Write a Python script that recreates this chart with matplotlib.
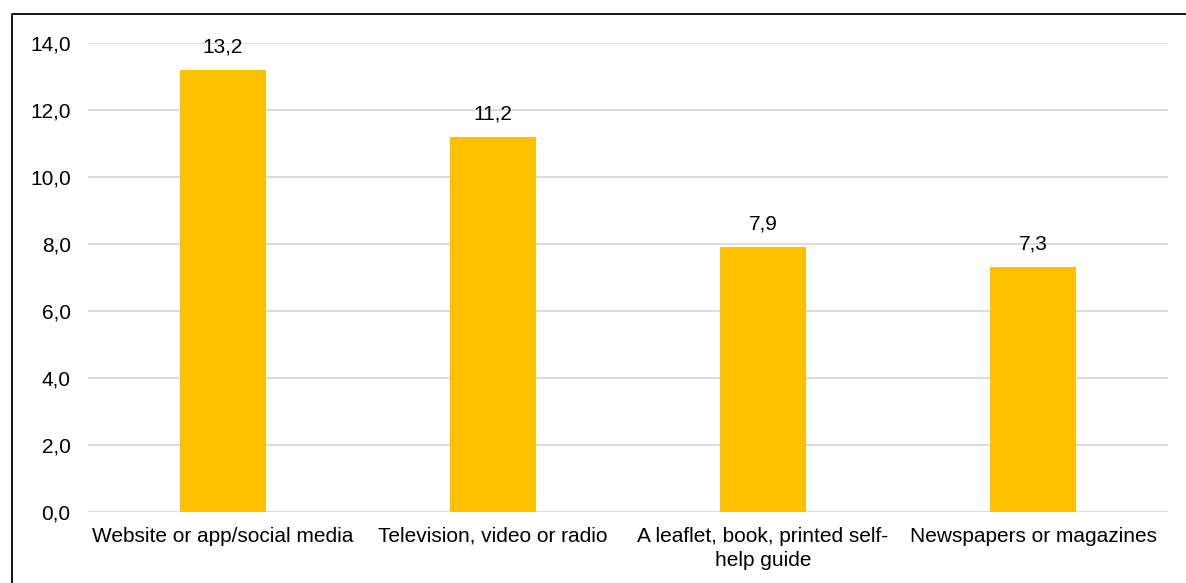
"""Bar chart of information sources (percent)."""

import matplotlib.pyplot as plt
from matplotlib.lines import Line2D

categories = ['Website or app/social media', 'Television, video or radio',
              'A leaflet, book, printed self-\nhelp guide', 'Newspapers or magazines']
values = [13.2, 11.2, 7.9, 7.3]
yticks = [0, 2, 4, 6, 8, 10, 12, 14]

plt.rcParams['font.family'] = ['Liberation Sans', 'DejaVu Sans']
FS = 15

fig = plt.figure(figsize=(11.86, 5.83), dpi=100)
ax = fig.add_axes([88 / 1186, 1 - 512 / 583, 1080 / 1186, 469 / 583])

x = range(len(categories))
bars = ax.bar(x, values, width=0.315, color='#FFC000', zorder=3)
for b, v in zip(bars, values):
    ax.annotate('{:.1f}'.format(v).replace('.', ','),
                (b.get_x() + b.get_width() / 2, v),
                xytext=(0, 12.7), textcoords='offset points',
                ha='center', va='baseline', fontsize=FS)

ax.set_xlim(-0.5, len(categories) - 0.5)
ax.set_ylim(0, 14)
ax.set_yticks(yticks)
ax.set_yticklabels(['{:.1f}'.format(t).replace('.', ',') for t in yticks], fontsize=FS)
ax.set_xticks(list(x))
ax.set_xticklabels(categories, fontsize=FS, linespacing=1.35)
ax.tick_params(axis='y', length=0, pad=12.5)
ax.tick_params(axis='x', length=0, pad=10.5)
ax.grid(axis='y', color='#d9d9d9', linewidth=1.3, zorder=0)
for s in ax.spines.values():
    s.set_visible(False)

# outer frame, only top and left edges fall inside the picture
fig.lines.append(Line2D([12 / 1186, 12 / 1186, 1], [0, 1 - 14 / 583, 1 - 14 / 583],
                        transform=fig.transFigure, color='black', linewidth=1.3))

fig.savefig('out.png', dpi=100)
